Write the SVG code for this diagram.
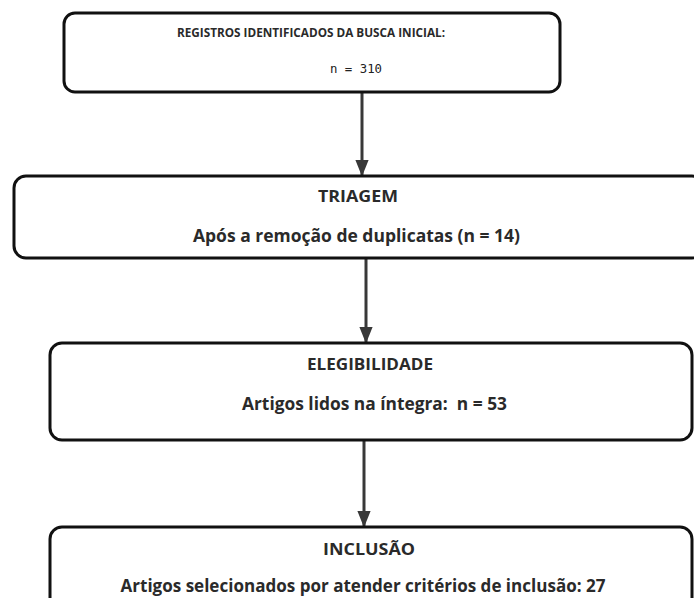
<svg xmlns="http://www.w3.org/2000/svg" width="694" height="598" viewBox="0 0 694 598">
<defs>
<style>
.box{fill:#fff;stroke:#111;stroke-width:3}
.t{font-family:"Open Sans","Liberation Sans",sans-serif;font-weight:bold;fill:#2a2a2a;text-anchor:middle}
.n{font-family:"DejaVu Sans Mono","Liberation Mono",monospace;fill:#222;text-anchor:middle}
.c{stroke:#383838;stroke-width:3;fill:none}
</style>
<marker id="ah" markerWidth="5.5" markerHeight="4.4" refX="5" refY="2.2" orient="auto" markerUnits="strokeWidth"><path d="M0,0 L5.5,2.2 L0,4.4 Z" fill="#383838"/></marker>
</defs>
<rect width="694" height="598" fill="#fff"/>
<g id="connectors">
<line class="c" x1="362" y1="93" x2="362" y2="175" marker-end="url(#ah)"/>
<line class="c" x1="366" y1="259" x2="366" y2="342" marker-end="url(#ah)"/>
<line class="c" x1="364" y1="441" x2="364" y2="526" marker-end="url(#ah)"/>
</g>
<g id="n1">
<rect class="box" x="64" y="13" width="496" height="79" rx="11"/>
<text class="t" x="311" y="37" font-size="12" textLength="268" lengthAdjust="spacingAndGlyphs">REGISTROS IDENTIFICADOS DA BUSCA INICIAL:</text>
<text class="n" x="356" y="73" font-size="13" textLength="52" lengthAdjust="spacingAndGlyphs">n = 310</text>
</g>
<g id="n2">
<rect class="box" x="14" y="176" width="690" height="82" rx="12"/>
<text class="t" x="358" y="202" font-size="16.5" textLength="80" lengthAdjust="spacingAndGlyphs">TRIAGEM</text>
<text class="t" x="356.5" y="242" font-size="17" textLength="327" lengthAdjust="spacingAndGlyphs">Após a remoção de duplicatas (n = 14)</text>
</g>
<g id="n3">
<rect class="box" x="50" y="343" width="642" height="97" rx="12"/>
<text class="t" x="370" y="370" font-size="16.5" textLength="126" lengthAdjust="spacingAndGlyphs">ELEGIBILIDADE</text>
<text class="t" x="374.5" y="410" font-size="17" textLength="265" lengthAdjust="spacingAndGlyphs" xml:space="preserve">Artigos lidos na íntegra:  n = 53</text>
</g>
<g id="n4">
<rect class="box" x="50" y="527" width="642" height="90" rx="12"/>
<text class="t" x="369" y="555" font-size="16.5" textLength="92" lengthAdjust="spacingAndGlyphs">INCLUSÃO</text>
<text class="t" x="363" y="592" font-size="17" textLength="485" lengthAdjust="spacingAndGlyphs">Artigos selecionados por atender critérios de inclusão: 27</text>
</g>
</svg>
